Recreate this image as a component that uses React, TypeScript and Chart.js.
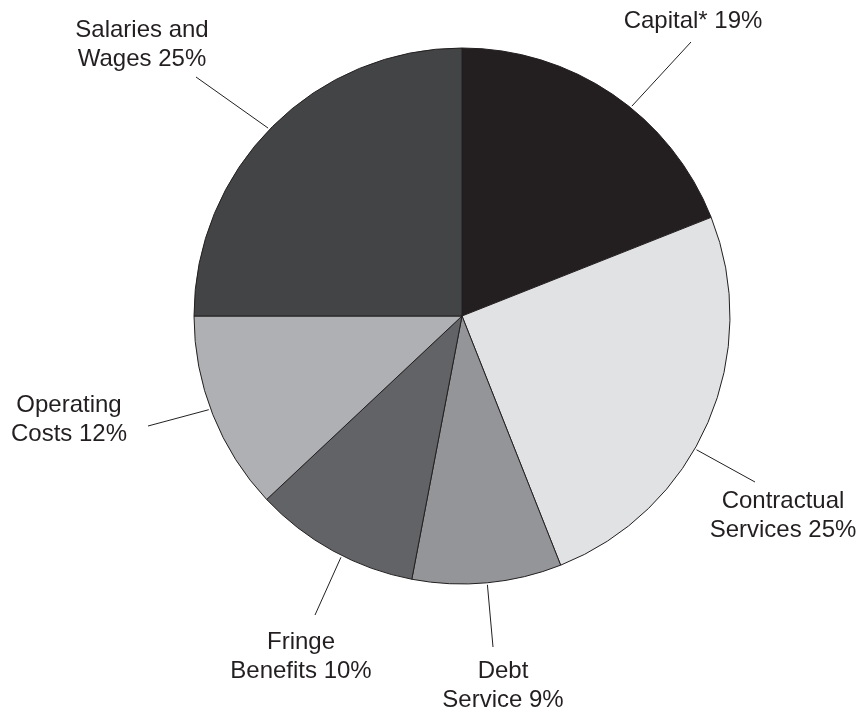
import React, { useEffect, useRef } from "react";
import { Chart, registerables } from "chart.js";

Chart.register(...registerables);

const categories = ["Capital*", "Contractual Services", "Debt Service", "Fringe Benefits", "Operating Costs", "Salaries and Wages"];
const shares = [19, 25, 9, 10, 12, 25];
const labelLines = [
  ["Capital* 19%"],
  ["Contractual", "Services 25%"],
  ["Debt", "Service 9%"],
  ["Fringe", "Benefits 10%"],
  ["Operating", "Costs 12%"],
  ["Salaries and", "Wages 25%"],
];
const sliceColors = ["#231f20", "#e1e2e4", "#939598", "#626366", "#aeb0b3", "#434446"];

// annotation layout (leader position along slice, leader end, text centre/first baseline)
const leaderFrac = [0.57, 0.57, 0.5, 0.44, 0.53, 0.49];
const leaderEnd = [[691, 42], [755, 482], [493, 647], [315, 615], [148, 426], [196, 77]];
const textPos = [[693, 28], [783, 508], [503, 678], [301, 649], [69, 412], [142, 37]];

const labelPlugin = {
  id: "pieLabels",
  afterDatasetsDraw(chart: any) {
    const ctx = chart.ctx;
    const meta = chart.getDatasetMeta(0);
    ctx.save();
    ctx.strokeStyle = "#231f20";
    ctx.lineWidth = 1;
    ctx.fillStyle = "#231f20";
    ctx.font = "24px 'Liberation Sans', Arial, sans-serif";
    ctx.textAlign = "center";
    ctx.textBaseline = "alphabetic";
    meta.data.forEach((arc: any, i: number) => {
      const { x, y, startAngle, endAngle, outerRadius } = arc.getProps(["x", "y", "startAngle", "endAngle", "outerRadius"], true);
      const a = startAngle + leaderFrac[i] * (endAngle - startAngle);
      const r = outerRadius + 2;
      ctx.beginPath();
      ctx.moveTo(x + r * Math.cos(a), y + r * Math.sin(a));
      ctx.lineTo(leaderEnd[i][0], leaderEnd[i][1]);
      ctx.stroke();
      labelLines[i].forEach((t, j) => {
        ctx.fillText(t, textPos[i][0], textPos[i][1] + j * 28.5);
      });
    });
    ctx.restore();
  },
};

export default function App() {
  const ref = useRef<HTMLCanvasElement>(null);
  useEffect(() => {
    const chart = new Chart(ref.current as HTMLCanvasElement, {
      type: "pie",
      data: {
        labels: categories,
        datasets: [
          {
            data: shares,
            backgroundColor: sliceColors,
            borderColor: "#231f20",
            borderWidth: 1,
          },
        ],
      },
      options: {
        animation: false,
        responsive: false,
        maintainAspectRatio: false,
        layout: { padding: { left: 193.5, right: 128.5, top: 47.5, bottom: 129.5 } },
        plugins: { legend: { display: false }, tooltip: { enabled: false } },
      },
      plugins: [labelPlugin],
    });
    return () => chart.destroy();
  }, []);
  return (
    <div style={{ position: "fixed", left: 0, top: 0, width: 859, height: 714, background: "#fff" }}>
      <canvas ref={ref} width={859} height={714} style={{ width: 859, height: 714 }} />
    </div>
  );
}
